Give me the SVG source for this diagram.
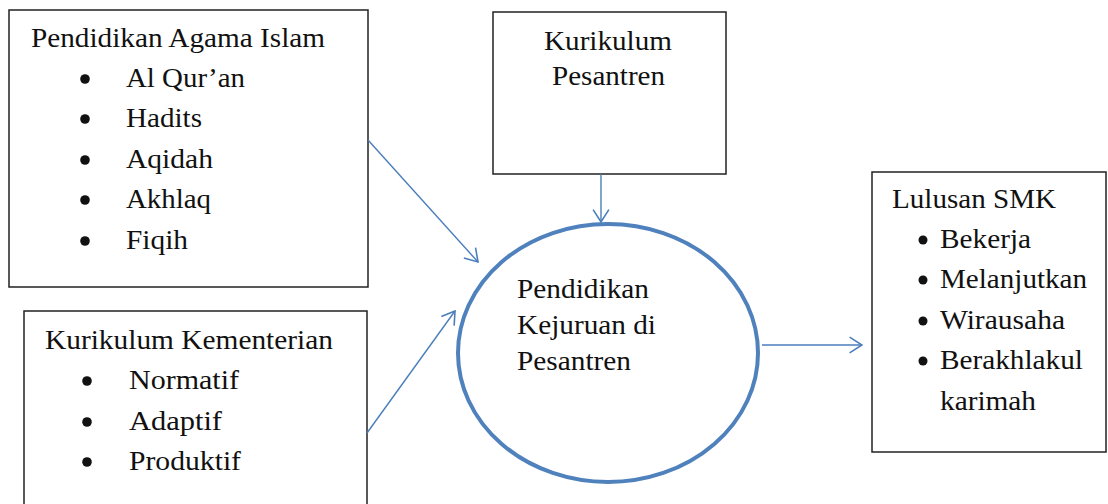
<svg xmlns="http://www.w3.org/2000/svg" width="1108" height="504" viewBox="0 0 1108 504">
  <style>
    .box { fill: #ffffff; stroke: #222222; stroke-width: 1.5; }
    text { font-family: 'Liberation Serif', 'Times New Roman', serif; font-size: 27px; fill: #111111; }
    .dot { fill: #111111; }
    .link { fill: none; stroke: #4A7EBB; stroke-width: 1.4; marker-end: url(#head); }
  </style>
  <defs>
    <marker id="head" markerUnits="userSpaceOnUse" markerWidth="16" markerHeight="18" viewBox="-13 -8 14 16" refX="0" refY="0" orient="auto">
      <path d="M-11,-7 L0,0 L-11,7" fill="none" stroke="#4A7EBB" stroke-width="1.4"/>
    </marker>
  </defs>
  <rect width="1108" height="504" fill="#ffffff"/>

  <!-- Pendidikan Agama Islam -->
  <g id="pai">
    <rect class="box" x="9" y="10" width="359" height="277"/>
    <text x="31" y="47" textLength="294" lengthAdjust="spacingAndGlyphs">Pendidikan Agama Islam</text>
    <circle class="dot" cx="85" cy="79" r="4.8"/>
    <text x="126" y="87" textLength="119" lengthAdjust="spacingAndGlyphs">Al Qur’an</text>
    <circle class="dot" cx="85" cy="119" r="4.8"/>
    <text x="126" y="127" textLength="76" lengthAdjust="spacingAndGlyphs">Hadits</text>
    <circle class="dot" cx="85" cy="160" r="4.8"/>
    <text x="126" y="168" textLength="87" lengthAdjust="spacingAndGlyphs">Aqidah</text>
    <circle class="dot" cx="85" cy="200" r="4.8"/>
    <text x="126" y="208" textLength="85" lengthAdjust="spacingAndGlyphs">Akhlaq</text>
    <circle class="dot" cx="85" cy="241" r="4.8"/>
    <text x="126" y="249" textLength="62" lengthAdjust="spacingAndGlyphs">Fiqih</text>
  </g>

  <!-- Kurikulum Kementerian -->
  <g id="kemenag">
    <rect class="box" x="24" y="311" width="343" height="210"/>
    <text x="45" y="349" textLength="288" lengthAdjust="spacingAndGlyphs">Kurikulum Kementerian</text>
    <circle class="dot" cx="87" cy="381" r="4.8"/>
    <text x="129" y="389" textLength="110" lengthAdjust="spacingAndGlyphs">Normatif</text>
    <circle class="dot" cx="87" cy="422" r="4.8"/>
    <text x="129" y="430" textLength="93" lengthAdjust="spacingAndGlyphs">Adaptif</text>
    <circle class="dot" cx="87" cy="462" r="4.8"/>
    <text x="129" y="470" textLength="112" lengthAdjust="spacingAndGlyphs">Produktif</text>
  </g>

  <!-- Kurikulum Pesantren -->
  <g id="pesantren">
    <rect class="box" x="493" y="12" width="233" height="162"/>
    <text x="544" y="50" textLength="128" lengthAdjust="spacingAndGlyphs">Kurikulum</text>
    <text x="552" y="85" textLength="113" lengthAdjust="spacingAndGlyphs">Pesantren</text>
  </g>

  <!-- Pendidikan Kejuruan di Pesantren -->
  <g id="kejuruan">
    <ellipse cx="608" cy="353" rx="150" ry="129" fill="#ffffff" stroke="#4F81BD" stroke-width="4"/>
    <text x="517" y="298" textLength="132" lengthAdjust="spacingAndGlyphs">Pendidikan</text>
    <text x="517" y="334" textLength="139" lengthAdjust="spacingAndGlyphs">Kejuruan di</text>
    <text x="517" y="370" textLength="114" lengthAdjust="spacingAndGlyphs">Pesantren</text>
  </g>

  <!-- Lulusan SMK -->
  <g id="lulusan">
    <rect class="box" x="872" y="172" width="234" height="280"/>
    <text x="892" y="208" textLength="164" lengthAdjust="spacingAndGlyphs">Lulusan SMK</text>
    <circle class="dot" cx="923" cy="240" r="4.5"/>
    <text x="940" y="248" textLength="91" lengthAdjust="spacingAndGlyphs">Bekerja</text>
    <circle class="dot" cx="923" cy="280" r="4.5"/>
    <text x="940" y="288" textLength="147" lengthAdjust="spacingAndGlyphs">Melanjutkan</text>
    <circle class="dot" cx="923" cy="321" r="4.5"/>
    <text x="940" y="329" textLength="125" lengthAdjust="spacingAndGlyphs">Wirausaha</text>
    <circle class="dot" cx="923" cy="361" r="4.5"/>
    <text x="940" y="369" textLength="143" lengthAdjust="spacingAndGlyphs">Berakhlakul</text>
    <text x="940" y="410" textLength="96" lengthAdjust="spacingAndGlyphs">karimah</text>
  </g>

  <!-- connectors -->
  <g id="connectors">
    <line class="link" x1="368" y1="140" x2="478" y2="262"/>
    <line class="link" x1="367" y1="433" x2="455" y2="311"/>
    <line class="link" x1="601" y1="174" x2="601" y2="222"/>
    <line class="link" x1="762" y1="345" x2="862" y2="345"/>
  </g>
</svg>
